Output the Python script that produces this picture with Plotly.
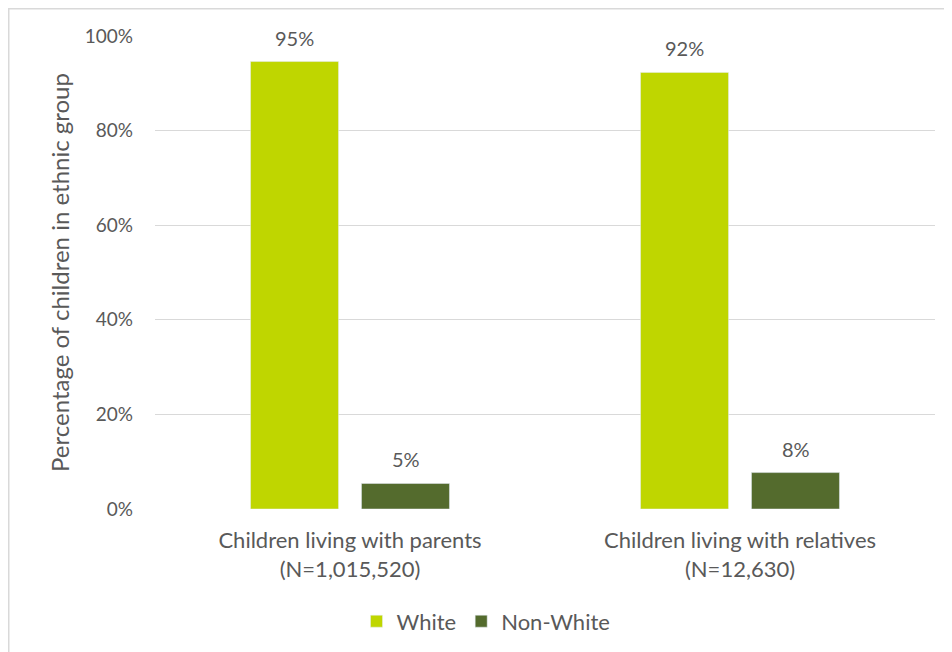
import plotly.graph_objects as go

categories = ["Children living with parents<br>(N=1,015,520)",
              "Children living with relatives<br>(N=12,630)"]
series_names = ["White", "Non-White"]
white_values = [94.6, 92.3]
nonwhite_values = [5.4, 7.7]
value_labels_white = ["95%", "92%"]
value_labels_nonwhite = ["5%", "8%"]
y_ticks = [0, 20, 40, 60, 80, 100]
y_tick_labels = ["0%", "20%", "40%", "60%", "80%", "100%"]

FONT = "Lato"
TXT = "#595959"
colors = ["#BFD600", "#546B2D"]

fig = go.Figure()
fig.add_trace(go.Bar(name=series_names[0], x=categories, y=white_values,
                     marker_color=colors[0], hoverinfo="skip"))
fig.add_trace(go.Bar(name=series_names[1], x=categories, y=nonwhite_values,
                     marker_color=colors[1], hoverinfo="skip"))

# data labels above bars
bar_offset_px = 55.5
for vals, labs, sgn in [(white_values, value_labels_white, -1),
                        (nonwhite_values, value_labels_nonwhite, 1)]:
    for c, v, t in zip(categories, vals, labs):
        fig.add_annotation(x=c, y=v, text=t, showarrow=False,
                           xshift=sgn * bar_offset_px, yshift=24,
                           yanchor="middle", xanchor="center",
                           font=dict(family=FONT, size=20, color=TXT))

W, H = 944, 644
L, R, T, B = 147, 17, 28, 142.5
pw, ph = W - L - R, H - T - B
# outer light border
fig.add_shape(type="rect", xref="paper", yref="paper",
              x0=(0.75 - L) / pw, x1=(W + 10 - L) / pw,
              y0=-(H + 10 - T - ph) / ph, y1=1 + (T - 0.75) / ph,
              line=dict(color="#D9D9D9", width=1.5), layer="below")

fig.update_layout(
    width=W, height=H,
    margin=dict(l=L, r=R, t=T, b=B, autoexpand=False),
    paper_bgcolor="white", plot_bgcolor="white",
    barmode="group", bargap=0.431, bargroupgap=0.207,
    font=dict(family=FONT, size=20, color=TXT),
    showlegend=True,
    legend=dict(orientation="h", x=(478 - L) / pw, xanchor="center",
                y=(ph - (614 - T)) / ph, yanchor="middle",
                font=dict(family=FONT, size=22, color=TXT),
                bgcolor="rgba(0,0,0,0)"),
    xaxis=dict(showgrid=False, showline=False, zeroline=False,
               ticks="", ticklabelstandoff=16,
               tickfont=dict(family=FONT, size=22, color=TXT)),
    yaxis=dict(range=[0, 100], tickmode="array", tickvals=y_ticks,
               ticktext=y_tick_labels,
               showgrid=True, gridcolor="#D9D9D9", gridwidth=1,
               zeroline=False, showline=False, ticks="",
               ticklabelstandoff=21,
               tickfont=dict(family=FONT, size=19, color=TXT),
               title=dict(text="Percentage of children in ethnic group",
                          font=dict(family=FONT, size=24, color=TXT),
                          standoff=8)),
)

fig.write_html("out.html")
